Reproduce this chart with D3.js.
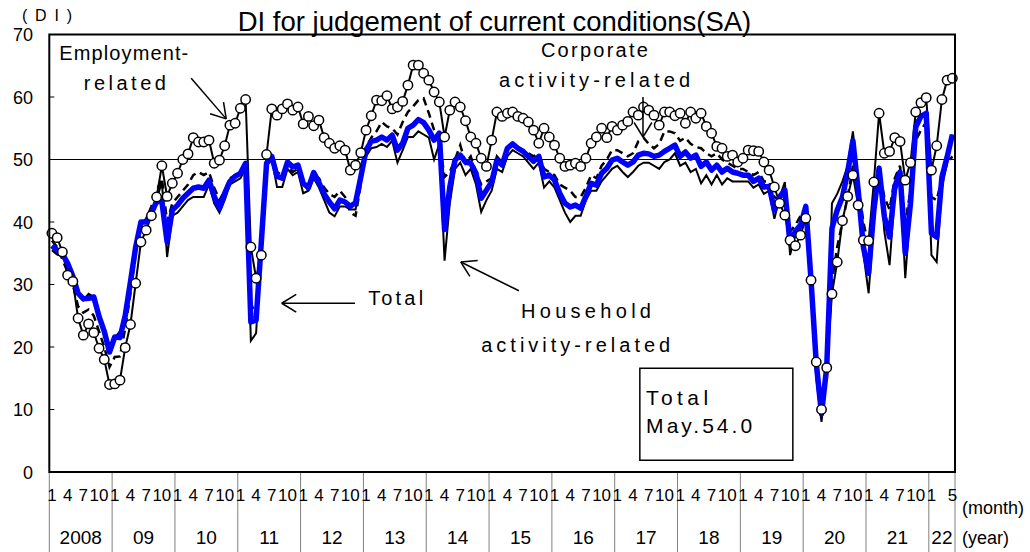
<!DOCTYPE html>
<html>
<head>
<meta charset="utf-8">
<script src="https://cdn.jsdelivr.net/npm/d3@7"></script>
<style>
body { margin:0; background:#fff; }
svg { display:block; font-family:"Liberation Sans", Arial, sans-serif; }
</style>
</head>
<body>
<svg id="chart"></svg>
<script>
// year labels on the second axis row
var yearLabels = ["2008","09","10","11","12","13","14","15","16","17","18","19","20","21","22"]
var monthTicks = [1,4,7,10]
var yTicks = [0,10,20,30,40,50,60,70]

// DI values, Jan 2008 .. May 2022
var total = [
36.2,35.5,34.9,33.4,31.3,28.6,27.7,27.8,28.0,24.9,22.5,19.2,
21.6,21.5,25.0,30.4,36.0,40.0,40.0,41.4,43.3,43.3,36.8,41.9,
42.7,43.8,44.6,45.4,45.6,45.4,46.7,44.1,42.2,44.6,46.5,47.3,
47.8,49.4,24.0,24.3,36.8,49.4,50.5,47.3,47.0,49.6,48.8,49.1,
46.2,45.5,47.9,46.3,44.5,43.2,42.1,43.5,43.2,42.5,43.1,47.2,
51.5,52.9,53.1,53.6,53.1,53.9,51.5,52.6,55.0,55.5,56.4,55.9,
54.7,53.1,54.2,38.8,45.6,49.9,50.7,49.6,49.4,47.8,43.8,45.1,
46.4,49.9,49.1,51.8,52.5,51.8,51.3,50.5,49.7,50.5,47.2,47.5,
46.7,44.6,43.0,42.4,42.7,42.2,44.1,46.2,45.9,47.8,48.6,49.9,
50.2,49.6,49.1,49.6,50.7,51.0,50.9,50.5,50.7,51.3,51.8,52.3,
50.5,51.2,50.2,50.7,48.9,49.6,48.3,49.1,48.0,48.6,48.0,47.8,
47.5,47.5,46.5,47.0,45.6,45.7,41.9,44.0,45.1,36.5,38.5,39.5,
42.5,30.7,17.4,9.3,16.8,39.0,41.9,44.0,48.0,53.0,45.1,36.0,
31.8,41.9,48.6,40.9,37.6,45.6,48.0,35.0,43.0,55.2,56.9,57.4,
38.2,37.6,47.2,50.4,54.0
]

var employment = [
38.2,37.5,35.2,31.5,30.5,24.6,21.9,23.7,22.3,19.8,18.0,14.0,
14.1,14.7,19.9,23.6,30.2,36.8,38.7,41.0,44.0,49.0,44.1,46.2,
47.8,50.0,50.9,53.5,52.8,52.8,53.1,49.4,49.9,52.2,55.5,55.8,
58.2,59.6,36.0,31.0,34.7,50.8,58.1,57.1,58.1,58.9,57.9,58.4,
55.7,56.9,55.4,56.3,53.5,52.6,51.8,52.2,51.5,48.3,49.1,51.1,
54.7,57.0,59.5,59.4,60.2,58.1,58.4,59.3,61.9,65.1,65.1,63.8,
62.7,60.8,59.2,53.6,57.9,59.2,58.4,56.2,53.6,52.6,50.2,48.9,
53.1,57.6,56.9,57.4,57.6,56.9,56.6,56.0,54.7,52.6,55.0,53.6,
52.3,50.2,48.9,49.1,49.4,48.9,50.2,52.6,53.6,55.0,53.5,55.3,
54.7,55.5,56.1,57.6,57.1,58.4,57.9,57.1,55.5,57.6,57.6,57.0,
57.4,55.8,57.6,56.6,57.4,55.3,54.2,52.1,51.8,50.5,50.7,49.6,
50.2,51.5,51.4,51.3,49.6,48.3,45.6,43.0,41.1,37.1,36.2,37.9,
40.6,30.7,17.6,10.0,16.7,28.5,33.6,40.2,44.1,47.5,42.7,37.1,
37.0,46.4,57.4,51.0,51.3,53.5,52.9,46.7,49.5,57.6,59.1,59.9,
48.3,52.2,59.6,62.7,63.0
]

var household = [
35.5,34.8,34.5,33.5,31.5,28.5,27.5,28.5,28.0,24.5,22.0,19.5,
21.5,22.5,24.5,31.0,36.5,40.0,40.0,41.5,43.5,46.5,34.4,41.0,
41.5,42.5,43.5,44.0,44.0,44.0,46.0,43.0,41.5,43.5,46.0,46.5,
47.0,48.5,21.0,22.2,36.0,49.0,50.0,45.6,45.6,48.5,47.5,48.0,
44.6,45.0,47.0,45.5,43.5,41.5,40.9,42.5,42.5,42.0,42.0,46.5,
50.5,51.8,52.0,52.5,52.0,53.0,49.5,51.5,53.6,53.6,54.5,54.0,
53.5,50.0,52.5,33.8,43.0,48.5,49.5,47.5,48.5,46.0,41.6,43.5,
45.0,48.5,48.0,50.5,51.5,51.0,50.5,49.5,48.5,49.5,45.5,46.5,
45.5,43.5,41.5,40.0,41.0,41.0,43.5,45.0,45.0,46.5,47.5,48.5,
49.0,48.0,47.2,48.0,49.0,49.5,49.5,49.0,48.5,49.6,50.0,51.0,
49.0,49.5,48.0,48.5,46.2,47.5,46.0,47.5,46.0,47.0,46.5,46.5,
46.5,46.5,45.5,46.0,44.5,45.0,40.5,44.0,46.4,34.7,38.0,39.0,
42.0,29.0,15.0,8.0,16.5,43.0,44.5,46.5,49.0,54.5,46.5,35.0,
28.6,40.0,49.0,38.5,33.1,44.5,47.5,31.0,42.5,56.0,57.0,57.5,
34.7,33.6,45.5,49.5,54.0
]

var corporate = [
37.0,36.0,34.0,32.0,30.0,26.5,25.5,26.0,25.0,22.5,20.0,16.8,
18.4,18.5,23.0,28.5,35.0,39.5,40.5,42.5,45.0,47.0,40.0,43.0,
44.0,45.0,46.0,47.5,48.0,47.5,48.0,45.5,43.5,45.0,47.0,47.5,
48.0,49.0,27.0,25.0,36.0,50.0,51.0,48.0,47.5,49.0,48.0,48.5,
46.5,45.0,47.5,47.0,45.5,44.5,44.0,45.0,44.0,41.5,41.0,46.0,
52.0,53.5,54.5,56.0,55.3,55.0,54.0,56.0,57.6,58.5,59.5,59.8,
57.4,54.7,53.0,47.2,48.0,50.0,52.3,49.4,50.5,48.0,46.0,46.5,
47.0,50.5,49.5,52.0,52.5,52.0,51.5,51.0,50.5,51.0,48.5,48.0,
47.5,46.0,45.5,45.0,44.0,44.0,45.5,47.5,47.0,49.0,50.0,51.5,
51.5,51.0,50.5,51.0,52.9,53.5,52.5,51.8,52.5,54.5,54.5,54.2,
53.0,53.5,52.5,52.0,51.8,51.0,50.5,51.0,50.0,49.5,49.0,48.5,
48.5,48.0,47.5,48.0,46.5,46.5,44.0,43.5,42.5,38.5,39.5,41.0,
41.0,31.5,19.0,10.5,16.5,30.5,36.0,40.0,44.0,49.0,46.0,40.0,
36.0,43.0,48.0,44.0,42.0,47.0,49.0,40.0,45.0,53.0,54.7,56.0,
44.0,43.5,47.0,49.4,50.5
]

var screen = {width:1030, height:552}
var margins = {top:34.5, right:75, bottom:80, left:49.3}

var svg = d3.select("#chart")
    .attr("width", screen.width)
    .attr("height", screen.height)

var width = screen.width - margins.left - margins.right
var height = screen.height - margins.top - margins.bottom

var xScale = d3.scaleBand()
    .domain(d3.range(total.length))
    .range([margins.left, margins.left + width])
var yScale = d3.scaleLinear()
    .domain([0,70])
    .range([margins.top + height, margins.top])

var cx = function(i) { return xScale(i) + xScale.bandwidth()/2 }
var bottom = margins.top + height

// title and unit
svg.append("text")
    .attr("x", 494.5).attr("y", 31)
    .attr("text-anchor","middle")
    .attr("font-size", 27.5)
    .text("DI for judgement of current conditions(SA)")

svg.append("text")
    .attr("x", 22).attr("y", 21)
    .attr("font-size", 16)
    .attr("textLength", 50)
    .attr("lengthAdjust","spacing")
    .text("(DI)")

// y axis labels and small inside ticks
svg.selectAll(".ylab")
    .data(yTicks)
    .enter()
    .append("text")
    .attr("class","ylab")
    .attr("x", 33)
    .attr("y", function(d){ return yScale(d) + 6.5 })
    .attr("text-anchor","end")
    .attr("font-size", 18)
    .text(function(d){ return d })

svg.selectAll(".ytick")
    .data(yTicks)
    .enter()
    .append("line")
    .attr("x1", margins.left).attr("x2", margins.left + 5)
    .attr("y1", function(d){ return yScale(d) })
    .attr("y2", function(d){ return yScale(d) })
    .attr("stroke","black")

// 50 reference line
svg.append("line")
    .attr("x1", margins.left).attr("x2", margins.left + width)
    .attr("y1", yScale(50)).attr("y2", yScale(50))
    .attr("stroke","black")
    .attr("stroke-width", 1)

// year separators below the axis
var bounds = yearLabels.map(function(d,k){ return k*12 })
bounds.push(total.length)
svg.selectAll(".sep")
    .data(bounds)
    .enter()
    .append("line")
    .attr("x1", function(d){ return d < total.length ? xScale(d) : margins.left + width })
    .attr("x2", function(d){ return d < total.length ? xScale(d) : margins.left + width })
    .attr("y1", bottom).attr("y2", screen.height)
    .attr("stroke","#808080")
    .attr("stroke-width", 1)

// month labels
var monthLabels = []
yearLabels.forEach(function(y,k){
    var ticks = (k == yearLabels.length - 1) ? [1,5] : monthTicks
    ticks.forEach(function(m){
        if (k*12 + m - 1 < total.length) monthLabels.push({i:k*12 + m - 1, m:m})
    })
})
svg.selectAll(".mlab")
    .data(monthLabels)
    .enter()
    .append("text")
    .attr("x", function(d){ return cx(d.i) })
    .attr("y", 501)
    .attr("text-anchor","middle")
    .attr("font-size", 17)
    .text(function(d){ return d.m })

svg.selectAll(".ylabel")
    .data(yearLabels)
    .enter()
    .append("text")
    .attr("x", function(d,k){
        var a = xScale(k*12)
        var b = Math.min(k*12 + 12, total.length)
        var e = b < total.length ? xScale(b) : margins.left + width
        return (a + e)/2
    })
    .attr("y", 544)
    .attr("text-anchor","middle")
    .attr("font-size", 19)
    .text(function(d){ return d })

svg.append("text").attr("x", 962).attr("y", 514).attr("font-size", 18).text("(month)")
svg.append("text").attr("x", 962).attr("y", 544).attr("font-size", 18).text("(year)")

// lines
var lineGenerator = d3.line()
    .x(function(v,i){ return cx(i) })
    .y(function(v){ return yScale(v) })

var plot = svg.append("g").attr("id","graph")

plot.append("path")
    .datum(employment)
    .attr("d", lineGenerator)
    .attr("fill","none").attr("stroke","black").attr("stroke-width", 2)

plot.append("path")
    .datum(household)
    .attr("d", lineGenerator)
    .attr("fill","none").attr("stroke","black").attr("stroke-width", 2)

plot.append("path")
    .datum(corporate)
    .attr("d", lineGenerator)
    .attr("fill","none").attr("stroke","black").attr("stroke-width", 2.5)
    .attr("stroke-dasharray","8,5")

plot.append("path")
    .datum(total)
    .attr("d", lineGenerator)
    .attr("fill","none").attr("stroke","#0000ff").attr("stroke-width", 5.5)
    .attr("stroke-linejoin","round")

plot.selectAll("circle")
    .data(employment)
    .enter()
    .append("circle")
    .attr("cx", function(v,i){ return cx(i) })
    .attr("cy", function(v){ return yScale(v) })
    .attr("r", 4.7)
    .attr("fill","white")
    .attr("stroke","black")
    .attr("stroke-width", 1.5)

// frame
svg.append("rect")
    .attr("x", margins.left).attr("y", margins.top)
    .attr("width", width).attr("height", height)
    .attr("fill","none").attr("stroke","black").attr("stroke-width", 2)

// annotations, placed in month / DI units
var notes = [
    {t:"Employment-", i:1.4, v:65.9, w:129},
    {t:"related", i:6.1, v:61.1, w:82},
    {t:"Corporate", i:93.4, v:66.4, w:107},
    {t:"activity-related", i:85.4, v:61.6, w:191},
    {t:"Total", i:60.4, v:26.7, w:55},
    {t:"Household", i:89.6, v:24.6, w:130},
    {t:"activity-related", i:82.0, v:19.2, w:189}
]
svg.selectAll(".note")
    .data(notes)
    .enter()
    .append("text")
    .attr("x", function(d){ return cx(0) + d.i*xScale.step() })
    .attr("y", function(d){ return yScale(d.v) })
    .attr("font-size", 20)
    .attr("textLength", function(d){ return d.w })
    .attr("lengthAdjust","spacing")
    .text(function(d){ return d.t })

var arrows = [
    {i1:26.6, v1:63.0, i2:33.3, v2:56.5},
    {i1:112.9, v1:60.0, i2:112.9, v2:53.6},
    {i1:57.9, v1:27.0, i2:43.9, v2:27.0},
    {i1:89.2, v1:29.0, i2:78.1, v2:33.6}
]
arrows.forEach(function(a){
    var x1 = cx(0) + a.i1*xScale.step(), y1 = yScale(a.v1)
    var x2 = cx(0) + a.i2*xScale.step(), y2 = yScale(a.v2)
    var ang = Math.atan2(y2 - y1, x2 - x1)
    svg.append("line")
        .attr("x1", x1).attr("y1", y1).attr("x2", x2).attr("y2", y2)
        .attr("stroke","black").attr("stroke-width", 1.5)
    ;[-0.55, 0.55].forEach(function(da){
        svg.append("line")
            .attr("x1", x2).attr("y1", y2)
            .attr("x2", x2 - 17*Math.cos(ang + da))
            .attr("y2", y2 - 17*Math.sin(ang + da))
            .attr("stroke","black").attr("stroke-width", 1.5)
    })
})

// latest value box
var box = svg.append("g")
box.append("rect")
    .attr("x", cx(0) + 112.3*xScale.step()).attr("y", yScale(16.6))
    .attr("width", 153).attr("height", 92)
    .attr("fill","white").attr("stroke","black").attr("stroke-width", 1.5)
box.append("text")
    .attr("x", cx(0) + 113.5*xScale.step()).attr("y", yScale(10.7))
    .attr("font-size", 21).attr("textLength", 62).attr("lengthAdjust","spacing")
    .text("Total")
box.append("text")
    .attr("x", cx(0) + 113.5*xScale.step()).attr("y", yScale(6.2))
    .attr("font-size", 21).attr("textLength", 106).attr("lengthAdjust","spacing")
    .text("May." + total[total.length-1].toFixed(1))
</script>
</body>
</html>
